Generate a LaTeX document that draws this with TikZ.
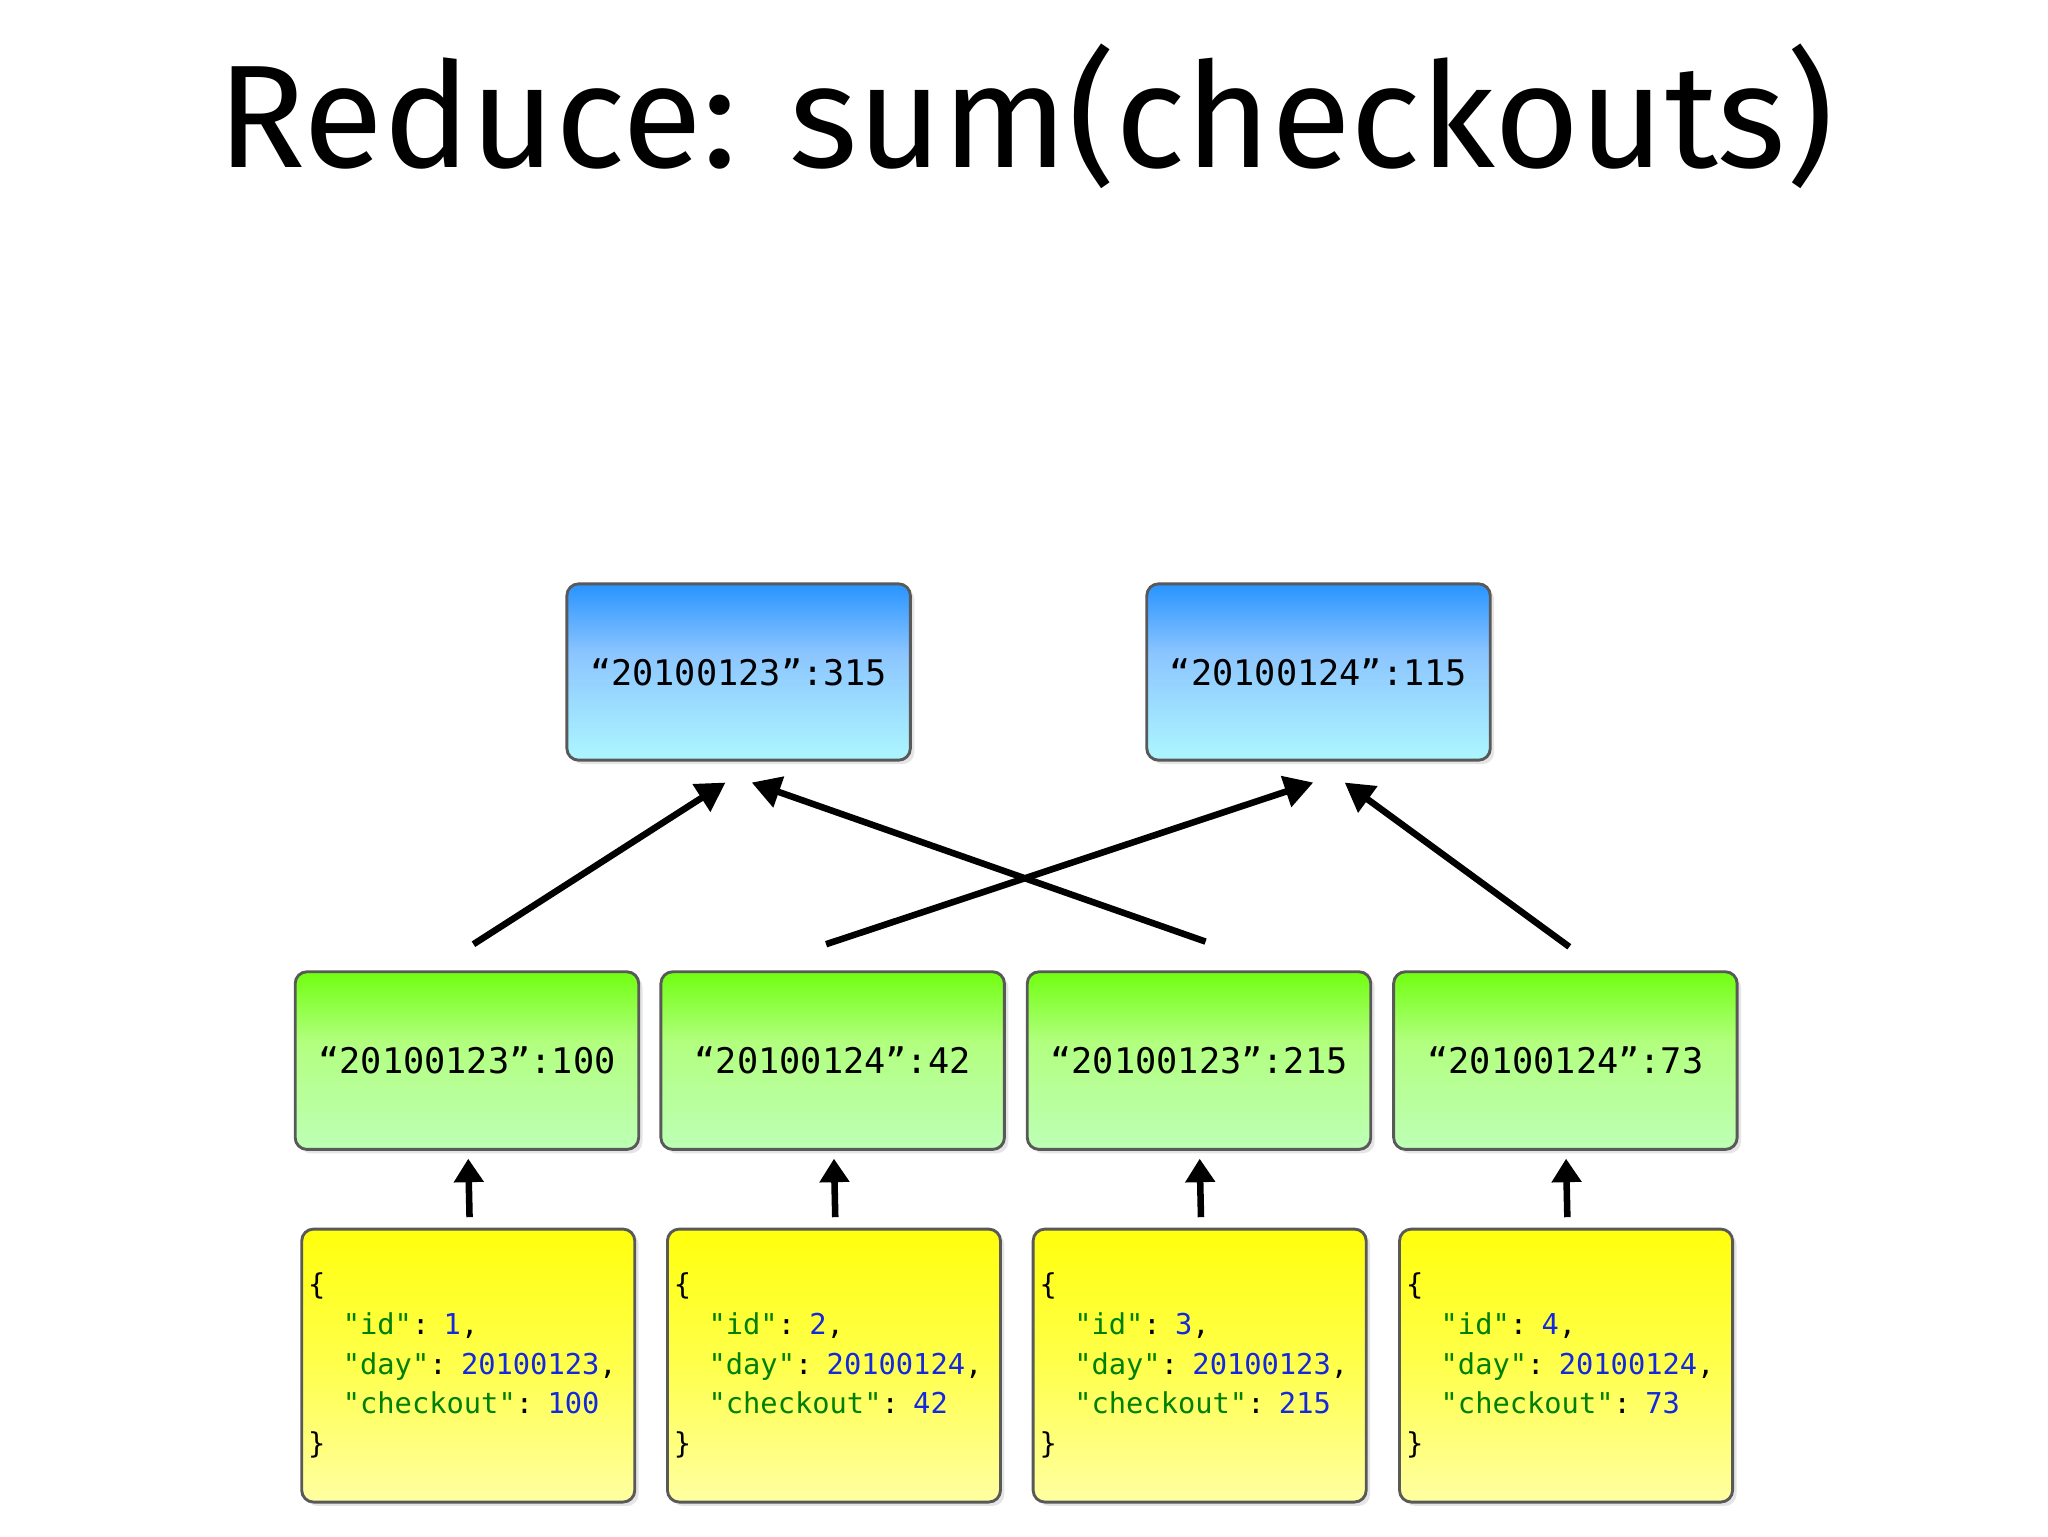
\documentclass[tikz,border=0pt]{standalone}
\usepackage{fontspec}
\setmainfont{Fira Sans}
\newfontfamily\monof{DejaVu Sans Mono}
\usetikzlibrary{shadows,arrows.meta}
\pgfdeclareverticalshading{blueg}{100bp}{color(0bp)=(white!90!cyan);color(20bp)=(cyan!30!white);color(55bp)=(cyan!50!blue!45!white);color(78bp)=(cyan!50!blue!90);color(90bp)=(cyan!60!blue!60!white);color(100bp)=(cyan!20!white)}
\pgfdeclareverticalshading{greeng}{100bp}{color(0bp)=(white!90!green);color(20bp)=(green!25!white);color(55bp)=(green!60!yellow!50!white);color(78bp)=(green!60!yellow);color(90bp)=(green!50!yellow!60!white);color(100bp)=(green!15!white)}
\pgfdeclareverticalshading{yellowg}{100bp}{color(0bp)=(white!95!yellow);color(20bp)=(yellow!30!white);color(50bp)=(yellow!70!white);color(80bp)=(yellow);color(92bp)=(yellow!70!white);color(100bp)=(yellow!15!white)}
\definecolor{keyc}{RGB}{0,128,0}
\definecolor{numc}{RGB}{20,40,220}
\tikzset{
 box/.style={draw=black!65,line width=2.2pt,rounded corners=9pt,drop shadow={shadow xshift=3pt,shadow yshift=-3pt,opacity=0.2},inner sep=0pt},
 bl/.style={box,shading=blueg,minimum width=263pt,minimum height=135pt,font=\monof\fontsize{27}{34}\selectfont},
 gr/.style={box,shading=greeng,minimum width=263pt,minimum height=136pt,font=\monof\fontsize{27}{34}\selectfont},
 ye/.style={box,shading=yellowg,minimum width=255pt,minimum height=209pt,font=\monof\fontsize{22}{30.3}\selectfont,align=left,text width=245pt},
 arr/.style={line width=5pt,-{Triangle[length=22pt,width=24pt]}},
 arrs/.style={line width=5pt,-{Triangle[length=18pt,width=22pt]}}
}
\newcommand{\K}[1]{\textcolor{keyc}{#1}}
\newcommand{\N}[1]{\textcolor{numc}{#1}}
\newcommand{\rec}[3]{\{\\\phantom{xx}\K{"id"}: \N{#1},\\\phantom{xx}\K{"day"}: \N{#2},\\\phantom{xx}\K{"checkout"}: \N{#3}\\\}}
\begin{document}
\begin{tikzpicture}[x=1pt,y=-1pt]
\useasboundingbox (0,0) rectangle (1568,1176);
\fill[white] (0,0) rectangle (1568,1176);
\node[font=\fontsize{112}{120}\selectfont,anchor=base] (t) at (785,128) {Reduce: sum(checkouts)};
\node[bl] (b1) at (565.5,514.5) {“20100123”:315};
\node[bl] (b2) at (1009.5,514.5) {“20100124”:115};
\node[gr] (g1) at (357.5,812) {“20100123”:100};
\node[gr] (g2) at (637.5,812) {“20100124”:42};
\node[gr] (g3) at (918,812) {“20100123”:215};
\node[gr] (g4) at (1198.5,812) {“20100124”:73};
\node[ye] (y1) at (358.5,1045.5) {\rec{1}{20100123}{100}};
\node[ye] (y2) at (638.5,1045.5) {\rec{2}{20100124}{42}};
\node[ye] (y3) at (918.5,1045.5) {\rec{3}{20100123}{215}};
\node[ye] (y4) at (1199,1045.5) {\rec{4}{20100124}{73}};
\draw[arr] ([xshift=5pt,yshift=20pt]g1.north) -- ([xshift=-10pt,yshift=-16pt]b1.south);
\draw[arr] ([xshift=5pt,yshift=22pt]g3.north) -- ([xshift=10pt,yshift=-16pt]b1.south);
\draw[arr] ([xshift=-5pt,yshift=20pt]g2.north) -- ([xshift=-4pt,yshift=-16pt]b2.south);
\draw[arr] ([xshift=3pt,yshift=18pt]g4.north) -- ([xshift=20pt,yshift=-16pt]b2.south);
\foreach \i in {1,2,3,4}{\draw[arrs] ([xshift=1pt,yshift=8pt]y\i.north) -- ([yshift=-6pt]y\i.north |- g\i.south);}
\end{tikzpicture}
\end{document}
